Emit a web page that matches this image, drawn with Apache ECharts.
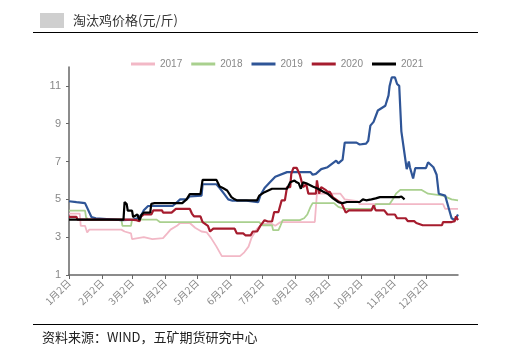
<!DOCTYPE html>
<html>
<head>
<meta charset="utf-8">
<title>淘汰鸡价格</title>
<script src="https://cdn.jsdelivr.net/npm/echarts@6.0.0/dist/echarts.min.js"></script>
<style>
  html, body { margin: 0; padding: 0; background: #fff; }
  #main { width: 513px; height: 353px; }
</style>
</head>
<body>
<div id="main"></div>
<script>
// x = 距1月2日的天数
var monthDays = [0, 31, 59, 90, 120, 151, 181, 212, 243, 273, 304, 334];
var monthNames = ['1月2日', '2月2日', '3月2日', '4月2日', '5月2日', '6月2日', '7月2日', '8月2日', '9月2日', '10月2日', '11月2日', '12月2日'];
var yTicks = [1, 3, 5, 7, 9, 11];
var years = ['2017', '2018', '2019', '2020', '2021'];

var y2017 = [[0,4.25],[10,4.25],[11,3.6],[15,3.6],[17,3.25],[19,3.4],[49,3.4],[52,3.3],[58,3.2],[59,2.9],[70,3.0],[78,2.9],[88,2.95],[92,3.2],[95,3.4],[101,3.6],[104,3.75],[113,3.75],[118,3.5],[124,3.3],[129,3.25],[133,2.95],[138,2.5],[143,2.0],[160,2.0],[164,2.2],[168,2.5],[171,3.0],[176,3.45],[179,3.6],[181,3.7],[190,3.7],[193,3.6],[198,3.8],[230,3.8],[232,5.3],[254,5.3],[258,5.0],[270,4.9],[272,4.75],[350,4.75],[352,4.5],[364,4.5]];
var y2018 = [[0,4.4],[15,4.4],[16,4.05],[18,3.93],[49,3.93],[50,3.6],[58,3.6],[59,3.93],[82,3.93],[85,3.8],[178,3.8],[181,3.63],[190,3.63],[191,3.37],[196,3.37],[198,3.63],[200,3.9],[216,3.9],[220,4.0],[223,4.2],[226,4.6],[228,4.8],[248,4.8],[252,4.6],[258,4.5],[285,4.5],[287,4.75],[300,4.75],[303,5.0],[306,5.3],[310,5.5],[330,5.5],[336,5.3],[350,5.2],[358,5.0],[364,4.95]];
var y2019 = [[0,4.9],[7,4.85],[8,4.8],[15,4.8],[21,4.07],[25,4.0],[49,3.9],[60,3.93],[64,4.0],[68,4.2],[70,4.42],[74,4.65],[97,4.65],[101,4.85],[104,5.0],[110,5.0],[113,5.15],[124,5.2],[125,5.8],[138,5.8],[141,5.6],[145,5.3],[149,5.0],[153,4.93],[166,4.93],[167,4.85],[177,4.85],[179,5.2],[183,5.6],[188,5.9],[193,6.2],[204,6.44],[226,6.44],[228,6.3],[231,6.35],[236,6.6],[242,6.7],[250,7.05],[252,6.9],[256,7.1],[258,8.0],[269,8.0],[272,7.9],[278,7.95],[280,8.1],[282,8.9],[285,9.1],[289,9.7],[296,9.95],[299,10.5],[300,11.0],[302,11.45],[305,11.45],[307,11.1],[309,11.0],[311,8.6],[314,7.4],[316,6.6],[318,7.0],[319,6.7],[322,6.1],[324,6.65],[334,6.65],[336,6.96],[341,6.7],[344,6.3],[346,5.3],[352,5.2],[355,4.6],[358,4.0],[361,3.9],[364,4.2]];
var y2020 = [[0,4.07],[7,4.07],[8,3.93],[58,3.93],[63,3.9],[66,3.85],[67,4.07],[70,4.2],[77,4.2],[79,4.42],[87,4.42],[88,4.3],[96,4.3],[97,4.2],[100,4.5],[113,4.5],[115,4.25],[117,4.1],[123,4.1],[125,3.8],[130,3.6],[132,3.3],[135,3.45],[155,3.45],[157,3.2],[163,3.2],[165,3.1],[170,3.1],[172,3.3],[176,3.3],[179,3.6],[183,3.9],[186,3.83],[190,3.83],[192,4.33],[196,4.33],[199,4.95],[202,4.95],[204,5.65],[207,5.65],[208,6.35],[210,6.67],[213,6.67],[216,6.3],[219,5.65],[222,5.8],[224,5.3],[231,5.3],[232,6.0],[234,5.3],[236,5.65],[240,5.5],[242,5.4],[244,5.4],[247,5.1],[252,4.9],[255,4.8],[259,4.3],[262,4.42],[283,4.42],[285,4.68],[287,4.42],[295,4.42],[298,4.2],[305,4.2],[307,4.0],[315,4.0],[317,3.85],[323,3.85],[325,3.75],[331,3.63],[349,3.63],[350,3.8],[358,3.8],[361,3.85],[362,4.1],[364,3.9]];
var y2021 = [[0,3.93],[51,3.93],[52,4.86],[54,4.75],[55,4.4],[59,4.4],[60,4.07],[64,4.2],[66,3.9],[68,4.2],[70,4.3],[76,4.3],[77,4.76],[80,4.8],[84,4.8],[85,4.9],[87,4.8],[106,4.8],[110,5.0],[113,5.28],[123,5.28],[125,6.03],[138,6.03],[141,5.68],[144,5.6],[148,5.47],[152,5.12],[155,5.0],[157,4.95],[176,4.95],[178,5.2],[183,5.38],[190,5.56],[204,5.56],[207,5.9],[211,6.0],[213,5.9],[215,5.85],[217,5.56],[219,5.9],[222,5.85],[228,5.68],[233,5.56],[238,5.4],[242,5.3],[247,5.05],[252,4.85],[256,4.8],[260,4.86],[272,4.86],[275,5.0],[278,4.95],[283,5.0],[287,5.05],[291,5.12],[309,5.12],[311,5.15],[314,5.0]];

var seriesData = [y2017, y2018, y2019, y2020, y2021];
var colors = ['#f2b8c6', '#a9d08e', '#2f5597', '#a61c2e', '#000000'];

var myChart = echarts.init(document.getElementById('main'));

var option = {
  animation: false,
  color: colors,
  grid: { left: 69, right: 55, top: 67, bottom: 78 },
  legend: {
    left: 126,
    top: 54,
    itemWidth: 24,
    itemHeight: 3,
    itemGap: 9,
    icon: 'rect',
    textStyle: { color: '#888', fontSize: 10, fontFamily: 'Liberation Sans' },
    data: years
  },
  xAxis: {
    type: 'value',
    min: 0,
    max: 364,
    axisLine: { lineStyle: { color: '#666', width: 1.5 } },
    axisTick: { customValues: monthDays, length: 4, lineStyle: { color: '#666' } },
    axisLabel: {
      customValues: monthDays,
      rotate: 45,
      fontSize: 10,
      color: '#888',
      fontFamily: 'Noto Sans CJK SC',
      margin: 6,
      formatter: function (v) {
        var i = monthDays.indexOf(v);
        return i >= 0 ? monthNames[i] : '';
      }
    },
    splitLine: { show: false }
  },
  yAxis: {
    type: 'value',
    min: 1,
    max: 12,
    axisLine: { show: true, lineStyle: { color: '#666', width: 1.5 } },
    axisTick: { show: true, customValues: yTicks, length: 3, lineStyle: { color: '#666' } },
    axisLabel: { customValues: yTicks, color: '#888', fontSize: 11, fontFamily: 'Liberation Sans', margin: 8 },
    splitLine: { show: false }
  },
  series: years.map(function (name, i) {
    return {
      name: name,
      type: 'line',
      data: seriesData[i],
      symbol: 'none',
      z: i === 4 ? 10 : 2 + i,
      lineStyle: { width: i < 2 ? 1.8 : 2.2, color: colors[i] }
    };
  }),
  graphic: [
    { type: 'rect', shape: { x: 40, y: 13, width: 24, height: 15 }, style: { fill: '#cfcfcf' } },
    { type: 'text', left: 73, top: 14, style: { text: '淘汰鸡价格(元/斤)', fill: '#333', font: '13px "Noto Sans CJK SC"' } },
    { type: 'line', shape: { x1: 33, y1: 32.5, x2: 478, y2: 32.5 }, style: { stroke: '#000', lineWidth: 1 } },
    { type: 'line', shape: { x1: 33, y1: 324.5, x2: 478, y2: 324.5 }, style: { stroke: '#000', lineWidth: 1 } },
    { type: 'text', left: 42, top: 331, style: { text: '资料来源：WIND，五矿期货研究中心', fill: '#222', font: '13px "Noto Sans CJK SC"' } }
  ]
};

myChart.setOption(option);
</script>
</body>
</html>
